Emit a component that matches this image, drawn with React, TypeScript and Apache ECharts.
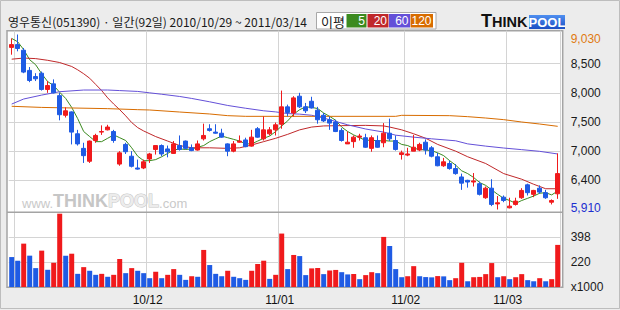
import React, { useEffect, useRef } from "react";
import * as echarts from "echarts";

const DATES = [
  "2010/10/29",
  "2010/11/01", "2010/11/02", "2010/11/03", "2010/11/04", "2010/11/05", "2010/11/08", "2010/11/09", "2010/11/10", "2010/11/11", "2010/11/12",
  "2010/11/15", "2010/11/16", "2010/11/17", "2010/11/18", "2010/11/19", "2010/11/22", "2010/11/23", "2010/11/24", "2010/11/25", "2010/11/26",
  "2010/11/29", "2010/11/30",
  "2010/12/01", "2010/12/02", "2010/12/03", "2010/12/06", "2010/12/07", "2010/12/08", "2010/12/09", "2010/12/10", "2010/12/13", "2010/12/14",
  "2010/12/15", "2010/12/16", "2010/12/17", "2010/12/20", "2010/12/21", "2010/12/22", "2010/12/23", "2010/12/24", "2010/12/27", "2010/12/28",
  "2010/12/29", "2010/12/30",
  "2011/01/03", "2011/01/04", "2011/01/05", "2011/01/06", "2011/01/07", "2011/01/10", "2011/01/11", "2011/01/12", "2011/01/13", "2011/01/14",
  "2011/01/17", "2011/01/18", "2011/01/19", "2011/01/20", "2011/01/21", "2011/01/24", "2011/01/25", "2011/01/26", "2011/01/27", "2011/01/28",
  "2011/01/31",
  "2011/02/01", "2011/02/07", "2011/02/08", "2011/02/09", "2011/02/10", "2011/02/11", "2011/02/14", "2011/02/15", "2011/02/16", "2011/02/17",
  "2011/02/18", "2011/02/21", "2011/02/22", "2011/02/23", "2011/02/24", "2011/02/25", "2011/02/28",
  "2011/03/02", "2011/03/03", "2011/03/04", "2011/03/07", "2011/03/08", "2011/03/09", "2011/03/10", "2011/03/11", "2011/03/14",
];

const OPEN = [
  8800, 8850, 8750, 8390, 8280, 8340, 8050, 8150, 7940, 7590,
  7650, 7260, 7000, 6770, 7140, 7290, 7330, 7300, 6720, 7070,
  6860, 6650, 6650, 6810, 6980, 7050, 6990, 6910, 7050, 7130,
  7010, 6970, 7170, 7350, 7290, 7270, 7080, 6950, 7110, 7150,
  7040, 7350, 7170, 7260, 7330, 7430, 7740, 7630, 7930, 7740,
  7840, 7680, 7590, 7510, 7470, 7320, 7080, 7120, 7200, 7190,
  7000, 7140, 7100, 7270, 7140, 6890, 6880, 6950, 6970, 7110,
  7010, 6850, 6690, 6730, 6640, 6490, 6430, 6400, 6370, 6120,
  6290, 6010, 6130, 5940, 6000, 6120, 6350, 6180, 6290, 6210,
  6040, 6190,
];
const CLOSE = [
  8850, 8780, 8360, 8210, 8240, 8050, 8120, 7990, 7600, 7670,
  7290, 7080, 6870, 7130, 7230, 7300, 7380, 7140, 6920, 6940,
  6680, 6630, 6760, 6900, 7050, 6900, 6940, 7080, 6980, 7000,
  6960, 7080, 7230, 7320, 7270, 7200, 6950, 7080, 7130, 7030,
  7200, 7200, 7330, 7330, 7420, 7740, 7640, 7900, 7740, 7670,
  7720, 7510, 7490, 7450, 7300, 7140, 7110, 7200, 7220, 7020,
  7190, 7020, 7270, 7170, 6980, 6920, 6900, 7020, 7070, 6970,
  6860, 6690, 6760, 6640, 6550, 6380, 6400, 6420, 6180, 6290,
  6000, 6030, 6070, 5970, 6060, 6250, 6210, 6250, 6220, 6120,
  6070, 6550,
];
const LOW = [
  8670, 8730, 8340, 8180, 8200, 8030, 7990, 7980, 7500, 7550,
  7070, 7050, 6740, 6740, 7100, 7240, 7320, 7100, 6690, 6900,
  6660, 6620, 6630, 6740, 6890, 6860, 6840, 6900, 6960, 6980,
  6950, 6960, 7140, 7300, 7260, 7190, 6860, 6930, 7100, 7020,
  7030, 7190, 7140, 7230, 7230, 7350, 7570, 7570, 7720, 7630,
  7710, 7440, 7470, 7330, 7290, 7120, 7080, 7010, 7140, 7010,
  6940, 7010, 7020, 7130, 6960, 6800, 6860, 6950, 6950, 6890,
  6840, 6680, 6670, 6620, 6530, 6260, 6300, 6320, 6160, 6100,
  5970, 5910, 6040, 5930, 5980, 6100, 6160, 6130, 6190, 6100,
  6000, 6100,
];
const HIGH = [
  8960, 9030, 8790, 8450, 8340, 8370, 8200, 8230, 7990, 7730,
  7660, 7330, 7100, 7140, 7260, 7410, 7420, 7330, 6950, 7100,
  6950, 6800, 6800, 6920, 7050, 7070, 7050, 7130, 7230, 7140,
  7070, 7140, 7440, 7430, 7430, 7350, 7090, 7130, 7230, 7190,
  7330, 7380, 7570, 7380, 7460, 8030, 7780, 7930, 7990, 7810,
  7920, 7740, 7630, 7570, 7510, 7360, 7300, 7230, 7260, 7260,
  7230, 7230, 7450, 7530, 7230, 6960, 7010, 7240, 7100, 7160,
  7040, 6920, 6830, 6780, 6720, 6550, 6440, 6560, 6410, 6320,
  6450, 6150, 6160, 6120, 6120, 6290, 6370, 6260, 6340, 6260,
  6090, 6910,
];

// volume in thousands of shares
const VOLUME = [
  256, 230, 352, 266, 177, 302, 165, 215, 566, 266,
  280, 136, 184, 158, 129, 136, 115, 129, 242, 141,
  177, 158, 141, 105, 151, 105, 129, 170, 129, 93,
  119, 115, 307, 199, 136, 119, 158, 115, 105, 93,
  158, 206, 230, 100, 129, 424, 170, 271, 263, 127,
  175, 178, 134, 160, 164, 148, 132, 135, 98, 127,
  148, 141, 400, 335, 170, 112, 119, 191, 119, 113,
  111, 120, 118, 91, 105, 215, 83, 112, 114, 134,
  213, 112, 119, 98, 112, 134, 91, 83, 105, 83,
  98, 343,
];

const MA5 = [
  8960, 8900, 8760, 8580, 8490, 8330, 8190, 8120, 8000, 7890,
  7730, 7530, 7300, 7210, 7120, 7120, 7180, 7240, 7190, 7140,
  7010, 6860, 6780, 6780, 6800, 6850, 6910, 6970, 6990, 6980,
  6990, 7020, 7050, 7120, 7170, 7220, 7190, 7160, 7130, 7080,
  7080, 7130, 7180, 7220, 7300, 7400, 7490, 7610, 7690, 7740,
  7730, 7710, 7630, 7570, 7500, 7380, 7300, 7240, 7190, 7140,
  7150, 7130, 7140, 7130, 7130, 7070, 7050, 7000, 6980, 6970,
  6960, 6920, 6870, 6780, 6700, 6600, 6550, 6480, 6390, 6340,
  6260, 6180, 6110, 6070, 6020, 6070, 6110, 6150, 6200, 6210,
  6170, 6240,
];
const MA20_PTS = [
  [0, 8590], [2, 8610], [4, 8600], [6, 8570], [8, 8530], [10, 8460], [11, 8400], [12, 8330],
  [13, 8250], [14, 8140], [15, 8030], [16, 7900], [17, 7790], [18, 7690], [19, 7580], [20, 7460],
  [21, 7370], [22, 7310], [24, 7210], [26, 7130], [28, 7050], [30, 7010], [33, 7010], [36, 7000],
  [38, 7010], [40, 7060], [42, 7120], [44, 7180], [46, 7250], [48, 7330], [50, 7380], [52, 7400],
  [55, 7405], [59, 7410], [62, 7400], [63, 7380], [65, 7330], [67, 7260], [69, 7180], [71, 7070],
  [74, 6950], [76, 6850], [79, 6730], [82, 6550], [85, 6450], [87, 6360], [89, 6280], [91, 6280],
];
const MA60_PTS = [
  [0, 7790], [2, 7880], [5, 7950], [8, 8010], [12, 8040], [16, 8040], [18, 8030], [21, 8015],
  [23, 7990], [25, 7965], [28, 7925], [30, 7890], [33, 7830], [36, 7765], [39, 7715], [42, 7670],
  [44, 7650], [46, 7620], [48, 7610], [50, 7590], [52, 7540], [54, 7480], [56, 7420], [59, 7345],
  [62, 7290], [64, 7235], [67, 7200], [70, 7170], [74, 7135], [76, 7080], [79, 7040], [82, 7006],
  [85, 6977], [88, 6947], [91, 6900],
];
const MA120_PTS = [
  [0, 7750], [5, 7730], [10, 7720], [16, 7708], [21, 7690], [23, 7684], [28, 7648], [33, 7613],
  [36, 7583], [39, 7571], [64, 7571], [65, 7589], [73, 7583], [76, 7565], [79, 7541], [82, 7512],
  [85, 7470], [88, 7434], [91, 7393],
];

const PRICE_TICKS = [5910, 6430, 6950, 7470, 7990, 8510, 9030];
const PRICE_TICK_LABELS = ["5,910", "6,400", "7,000", "7,500", "8,000", "8,500", "9,030"];
const VOL_TICKS = [42, 220, 398, 576];
const VOL_TICK_LABELS = ["x1000", "220", "398", ""];

const MA_NAMES = ["5", "20", "60", "120"];
const MA_COLORS = ["#3b8a1f", "#c0282a", "#6450d8", "#d86c00"];
const TITLE = "영우통신(051390) · 일간(92일) 2010/10/29 ~ 2011/03/14";

const RED = "#f01a1c";
const BLUE = "#1f5be4";
const GRID_COLOR = "#d4d4d4";
const FRAME_COLOR = "#a4a4a4";
const NUM_FONT = "'Liberation Sans', Arial, sans-serif";
const KR_FONT = "'Noto Sans CJK KR', sans-serif";

const GL = 8.7;
const GR = 620 - 560.7;

export default function App() {
  const ref = useRef<HTMLDivElement>(null);

  useEffect(() => {
    if (!ref.current) return;
    const chart = echarts.init(ref.current, undefined, { renderer: "svg" });

    const monthStart = new Set<number>();
    DATES.forEach((d, i) => {
      if (i > 0 && d.slice(0, 7) !== DATES[i - 1].slice(0, 7)) monthStart.add(i);
    });

    const candleData = DATES.map((_, i) => [OPEN[i], CLOSE[i], LOW[i], HIGH[i]]);
    const volData = VOLUME.map((v, i) => ({
      value: v,
      itemStyle: { color: i > 0 && v > VOLUME[i - 1] ? RED : BLUE },
    }));

    const maSeries = [MA5, MA20_PTS, MA60_PTS, MA120_PTS].map((d, k) => ({
      type: "line",
      name: "MA" + MA_NAMES[k],
      xAxisIndex: 0,
      yAxisIndex: 0,
      data: d,
      symbol: "none",
      silent: true,
      z: 3,
      lineStyle: { color: MA_COLORS[k], width: 1 },
    }));

    const legendX = [346.5, 367.5, 389, 410.5];
    const legendW = [20, 21, 21, 22.5];

    const option: any = {
      animation: false,
      backgroundColor: "#ececec",
      grid: [
        { left: GL, right: GR, top: 34.5, height: 175 },
        { left: GL, right: GR, top: 212.3, height: 74.7 },
        { left: GL, right: GR, top: 30.7, height: 256.6 },
      ],
      xAxis: [
        { type: "category", gridIndex: 0, data: DATES, boundaryGap: true, show: false },
        { type: "category", gridIndex: 1, data: DATES, boundaryGap: true, show: false },
        {
          type: "category",
          gridIndex: 2,
          data: DATES,
          boundaryGap: true,
          position: "bottom",
          axisLine: { show: false },
          axisTick: { show: false },
          splitLine: {
            show: true,
            interval: (i: number) => monthStart.has(i),
            lineStyle: { color: GRID_COLOR, width: 1 },
          },
          axisLabel: {
            interval: (i: number) => monthStart.has(i) && i > 5,
            margin: 7,
            formatter: (v: string) => `{a|${v.slice(2, 4)}/${v.slice(5, 7)}}`,
            rich: {
              a: { fontSize: 12, fontFamily: NUM_FONT, color: "#111", padding: [0, 4, 0, 0] },
            },
          },
        },
      ],
      yAxis: [
        {
          type: "value",
          gridIndex: 0,
          position: "right",
          min: PRICE_TICKS[0],
          max: PRICE_TICKS[PRICE_TICKS.length - 1],
          interval: PRICE_TICKS[1] - PRICE_TICKS[0],
          axisLine: { show: false },
          axisTick: { show: false },
          splitLine: {
            show: true,
            showMinLine: false,
            showMaxLine: false,
            lineStyle: { color: GRID_COLOR, width: 1 },
          },
          axisLabel: {
            margin: 10,
            formatter: (v: number) => {
              const k = PRICE_TICKS.findIndex((t) => Math.abs(t - v) < 1);
              if (k < 0) return "";
              const lab = PRICE_TICK_LABELS[k];
              if (k === PRICE_TICKS.length - 1) return `{top|${lab}}`;
              if (k === 0) return `{bot|${lab}}`;
              return `{n|${lab}}`;
            },
            rich: {
              top: { color: "#e07a10", fontSize: 12, fontFamily: NUM_FONT, padding: [8, 0, 0, 0] },
              bot: { color: "#1c2fd0", fontSize: 12, fontFamily: NUM_FONT, padding: [0, 0, 4, 0] },
              n: { color: "#1a1a1a", fontSize: 12, fontFamily: NUM_FONT },
            },
          },
        },
        {
          type: "value",
          gridIndex: 1,
          position: "right",
          min: VOL_TICKS[0],
          max: VOL_TICKS[VOL_TICKS.length - 1],
          interval: VOL_TICKS[1] - VOL_TICKS[0],
          axisLine: { show: false },
          axisTick: { show: false },
          splitLine: {
            show: true,
            showMinLine: false,
            showMaxLine: false,
            lineStyle: { color: GRID_COLOR, width: 1 },
          },
          axisLabel: {
            margin: 10,
            fontSize: 12,
            fontFamily: NUM_FONT,
            color: "#1a1a1a",
            formatter: (v: number) => {
              const k = VOL_TICKS.findIndex((t) => Math.abs(t - v) < 1);
              return k < 0 ? "" : VOL_TICK_LABELS[k];
            },
          },
        },
        { type: "value", gridIndex: 2, show: false, min: 0, max: 1 },
      ],
      graphic: [
        {
          type: "rect",
          z: -20,
          shape: { x: 0.5, y: 0.5, width: 619, height: 308 },
          style: { fill: "#ececec", stroke: "#bdbdbd", lineWidth: 1 },
        },
        {
          type: "rect",
          z: -10,
          shape: { x: 7, y: 30.7, width: 555.7, height: 256.6 },
          style: { fill: "#ffffff", stroke: FRAME_COLOR, lineWidth: 1.5 },
        },
        {
          type: "line",
          z: 5,
          shape: { x1: 7, y1: 212.2, x2: 562.7, y2: 212.2 },
          style: { stroke: FRAME_COLOR, lineWidth: 1.5 },
        },
        {
          type: "text",
          z: -5,
          x: 22,
          y: 210,
          style: {
            text: "{a|www.}{b|THINK}{c|POOL}{a|.com}",
            verticalAlign: "bottom",
            rich: {
              a: { fontSize: 13, fontFamily: NUM_FONT, fill: "#c9c9c9", verticalAlign: "bottom" },
              b: { fontSize: 18, fontWeight: "bold", fontFamily: NUM_FONT, fill: "#c6c6c6", verticalAlign: "bottom" },
              c: {
                fontSize: 18,
                fontWeight: "bold",
                fontFamily: NUM_FONT,
                fill: "#ececec",
                stroke: "#c6c6c6",
                lineWidth: 1,
                verticalAlign: "bottom",
              },
            },
          },
        },
        {
          type: "text",
          x: 8,
          y: 21,
          style: {
            text: TITLE,
            fill: "#1a1a1a",
            font: `12px ${KR_FONT}`,
            verticalAlign: "middle",
          },
        },
        {
          type: "rect",
          shape: { x: 316.5, y: 12.5, width: 119.5, height: 16.5 },
          style: { fill: "#ffffff", stroke: "#a8a8a8", lineWidth: 1 },
        },
        {
          type: "text",
          x: 321,
          y: 21,
          style: { text: "이평", fill: "#1a1a1a", font: `13px ${KR_FONT}`, verticalAlign: "middle" },
        },
        ...MA_NAMES.flatMap((n, k) => [
          {
            type: "rect",
            shape: { x: legendX[k], y: 14, width: legendW[k], height: 13.5 },
            style: { fill: MA_COLORS[k] },
          },
          {
            type: "text",
            x: legendX[k] + legendW[k] - 1.5,
            y: 21,
            style: {
              text: n,
              fill: "#ffffff",
              font: `12px ${NUM_FONT}`,
              align: "right",
              verticalAlign: "middle",
            },
          },
        ]),
        {
          type: "text",
          x: 481,
          y: 29.5,
          style: {
            text: "{t|T}{h|HINK}",
            verticalAlign: "bottom",
            rich: {
              t: { fontSize: 18, fontWeight: "bold", fontFamily: NUM_FONT, fill: "#111", verticalAlign: "bottom" },
              h: { fontSize: 14.5, fontWeight: "bold", fontFamily: NUM_FONT, fill: "#111", verticalAlign: "bottom" },
            },
          },
        },
        {
          type: "rect",
          shape: { x: 529, y: 15, width: 36, height: 14 },
          style: {
            fill: new echarts.graphic.LinearGradient(0, 0, 0, 1, [
              { offset: 0, color: "#4f8ff0" },
              { offset: 1, color: "#1c4fc4" },
            ]),
          },
        },
        {
          type: "text",
          x: 547,
          y: 22.5,
          style: {
            text: "POOL",
            fill: "#ffffff",
            font: `bold 13px ${NUM_FONT}`,
            align: "center",
            verticalAlign: "middle",
          },
        },
      ],
      series: [
        {
          type: "candlestick",
          name: "price",
          xAxisIndex: 0,
          yAxisIndex: 0,
          data: candleData,
          barWidth: 4,
          silent: true,
          z: 4,
          itemStyle: {
            color: RED,
            color0: BLUE,
            borderColor: RED,
            borderColor0: BLUE,
            borderWidth: 1,
          },
        },
        ...maSeries,
        {
          type: "bar",
          name: "volume",
          xAxisIndex: 1,
          yAxisIndex: 1,
          data: volData,
          barWidth: 5,
          clip: true,
          silent: true,
        },
      ],
    };

    chart.setOption(option);
    return () => chart.dispose();
  }, []);

  return (
    <div
      ref={ref}
      style={{ position: "absolute", left: 0, top: 0, width: 620, height: 310 }}
    />
  );
}
